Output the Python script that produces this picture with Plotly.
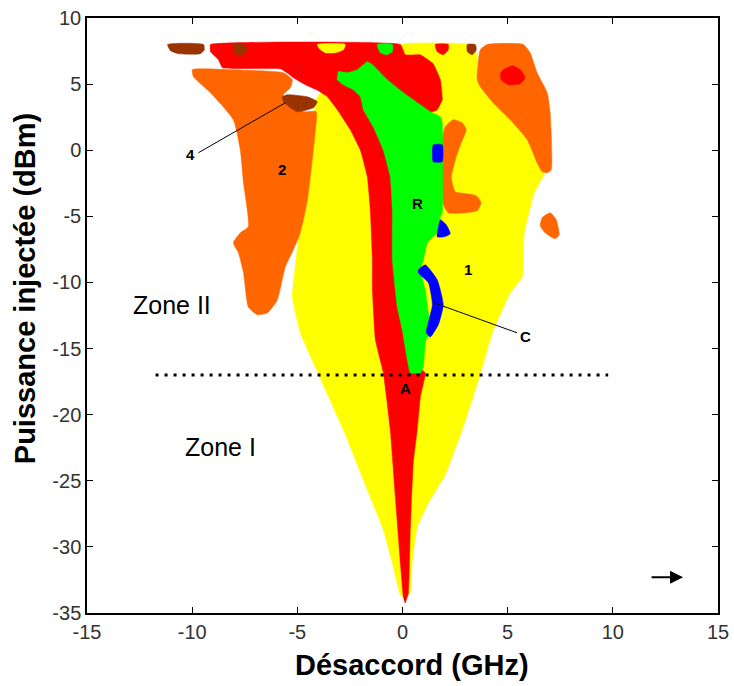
import plotly.graph_objects as go

# ---------------- data (GHz, dBm) ----------------
yellow_x = [-0.10, -0.48, -0.91, -1.86, -2.81, -4.00, -4.86, -5.24, -4.95, -4.76, -4.38, -4.24, -4.10, -3.90,
            -3.57, -2.95, -2.24, -1.05, -0.10, 3.22, 3.55, 3.55, 4.65, 5.93, 6.78, 6.26, 5.79, 5.69, 5.12,
            4.27, 3.70, 2.84, 2.03, 1.23, 0.70, 0.47, 0.37, 0.13]
yellow_y = [-33.64, -31.22, -28.72, -24.94, -21.15, -16.92, -13.81, -11.09, -6.78, -4.28, 0.00, 2.53, 3.82, 4.35,
            4.04, 3.82, 4.57, 6.09, 8.0, 8.0, 7.22, 5.33, 3.44, 0.79, -1.63, -3.22, -6.25, -9.58, -10.79,
            -13.81, -16.92, -21.15, -24.56, -26.68, -28.49, -30.99, -33.49, -33.87]

orange2_x = [-9.99, -8.18, -5.66, -5.24, -5.33, -5.66, -5.33, -4.62, -4.10, -4.14, -4.24, -4.52, -4.86, -5.19,
             -5.57, -5.95, -6.42, -6.90, -7.33, -7.56, -7.80, -8.04, -7.71, -7.33, -7.56, -7.71, -8.04, -9.13, -9.94]
orange2_y = [6.09, 6.09, 5.86, 5.33, 4.73, 4.20, 3.29, 2.91, 2.91, 1.55, 0.00, -3.75, -6.25, -7.53,
             -8.82, -11.32, -12.30, -12.45, -11.85, -9.27, -7.76, -7.00, -6.25, -5.79, -2.46, 0.00, 2.30, 4.35, 5.56]

orange_r_x = [3.55, 3.70, 4.03, 5.74, 6.07, 6.40, 6.88, 7.02, 7.07, 6.88, 6.64, 6.40, 5.93, 5.12, 4.31, 3.70]
orange_r_y = [5.33, 7.60, 8.0, 8.0, 7.37, 5.86, 4.35, 2.83, -1.48, -1.71, -1.63, -0.95, 0.79, 2.30, 3.59, 4.80]

orange_c_x = [2.41, 2.84, 3.03, 2.75, 2.51, 2.32, 2.51, 3.08, 3.51, 3.74, 3.55, 3.03, 2.18, 1.94, 1.89, 1.89, 2.03]
orange_c_y = [2.30, 2.08, 1.55, 0.41, -0.72, -2.08, -3.14, -3.30, -3.45, -3.98, -4.58, -4.73, -4.73, -4.13, -2.61, 0.79, 1.77]

orange_s_x = [7.02, 7.31, 7.45, 7.26, 6.78, 6.55, 6.64]
orange_s_y = [-4.73, -5.26, -6.40, -6.70, -6.25, -5.72, -5.11]

red_x = [-9.13, -0.10, 0.13, 0.85, 1.46, 1.80, 1.89, 1.65, 1.32, 0.37, 0.13, 0.37, 0.51, 0.66, 1.08, 0.85,
         0.70, 0.51, 0.37, 0.28, 0.13, 0.04, -0.10, -0.34, -0.58, -0.91, -1.29, -1.43, -1.43, -1.53, -1.67,
         -2.00, -2.48, -3.10, -3.57, -4.00, -4.62, -5.19, -5.43, -5.81, -8.56, -8.75, -9.13]
red_y = [8.0, 8.0, 7.22, 7.22, 6.54, 5.33, 3.82, 3.06, 2.83, 2.30, -3.75, -11.32, -14.34, -16.24, -16.84, -18.66,
         -21.15, -23.65, -28.72, -33.49, -34.25, -33.79, -31.22, -26.22, -21.15, -16.84, -14.34, -10.56, -8.29,
         -4.51, -2.01, 0.00, 1.55, 3.06, 4.04, 4.50, 4.95, 5.48, 5.79, 6.16, 6.24, 6.84, 7.45]

red_o_x = [4.79, 5.22, 5.60, 5.83, 5.60, 5.03, 4.69, 4.65]
red_o_y = [6.09, 6.39, 6.09, 5.48, 5.03, 4.95, 5.33, 5.79]

red_t_x = [1.56, 2.18, 2.18, 1.94, 1.65]
red_t_y = [8.0, 8.0, 7.60, 7.22, 7.45]

yellow_t_x = [-4.05, -2.72, -2.81, -3.19, -3.67, -3.95]
yellow_t_y = [8.0, 8.0, 7.60, 7.37, 7.37, 7.68]

green_x = [-3.05, -2.62, -2.15, -1.67, -1.43, -0.72, 0.04, 0.85, 1.32, 1.80, 1.89, 1.89, 1.80, 1.65, 1.18,
           0.99, 0.85, 1.08, 1.23, 1.42, 1.18, 1.08, 0.99, 0.85, 0.37, 0.23, -0.01, -0.25, -0.48, -0.48,
           -0.58, -0.91, -1.39, -1.86, -2.00, -2.34, -2.81, -3.10]
green_y = [5.94, 5.86, 6.09, 6.69, 6.47, 5.33, 4.35, 3.44, 2.91, 2.53, 2.08, -4.73, -5.04, -6.25, -7.00,
           -8.29, -9.05, -10.56, -12.30, -13.97, -14.12, -14.57, -16.39, -16.84, -16.84, -15.86, -13.59, -11.85,
           -8.29, -4.51, -2.01, 0.00, 1.77, 3.06, 4.04, 4.57, 4.95, 5.33]

green_t_x = [-1.20, -0.48, -0.48, -0.77, -1.05]
green_t_y = [8.0, 8.0, 7.45, 7.22, 7.37]

blue1_x = [1.46, 1.89, 1.89, 1.46, 1.42]
blue1_y = [0.41, 0.41, -0.87, -0.87, -0.27]
blue2_x = [1.80, 2.08, 2.27, 1.99, 1.65, 1.70]
blue2_y = [-5.26, -5.64, -6.32, -6.55, -6.55, -5.87]
blue3_x = [0.75, 1.08, 1.65, 1.94, 1.70, 1.32, 1.13, 1.42, 1.23, 0.75]
blue3_y = [-9.05, -8.67, -9.80, -11.70, -13.21, -14.12, -13.81, -11.70, -10.03, -9.27]

brown1_x = [-11.17, -9.46, -9.42, -9.61, -10.65, -11.03]
brown1_y = [8.0, 8.0, 7.60, 7.30, 7.30, 7.53]
brown2_x = [-8.04, -7.47, -7.42, -7.71, -7.99]
brown2_y = [8.0, 8.0, 7.45, 7.15, 7.37]
brown3_x = [3.08, 3.46, 3.51, 3.32, 3.08]
brown3_y = [8.0, 8.0, 7.60, 7.22, 7.45]
brown4_x = [-5.71, -5.47, -4.52, -4.05, -4.24, -5.00, -5.33, -5.66]
brown4_y = [4.04, 4.20, 4.04, 3.67, 3.21, 2.91, 3.21, 3.67]

threshold_x = [-11.74, 9.78]
threshold_y = [-17.0, -17.0]

region_labels = ["4", "2", "R", "1", "C", "A"]
region_label_x = [-10.08, -5.71, 0.70, 3.13, 5.83, 0.13]
region_label_y = [-0.34, -1.48, -4.05, -9.05, -14.12, -18.05]

zone_labels = ["Zone II", "Zone I"]
zone_x = [-10.94, -8.66]
zone_y = [-11.70, -22.44]

leader4_x = [-9.70, -5.57]
leader4_y = [-0.19, 3.59]
leaderC_x = [1.51, 5.45]
leaderC_y = [-11.55, -13.81]

arrow_x = [11.77, 13.34]
arrow_y = [-32.3, -32.3]

x_ticks = [-15, -10, -5, 0, 5, 10, 15]
x_tick_text = ["-15", "-10", "-5", "0", "5", "10", "15"]
y_ticks = [-35, -30, -25, -20, -15, -10, -5, 0, 5, 10]
y_tick_text = ["-35", "-30", "-25", "-20", "-15", "-10", "-5", "0", "5", "10"]

YELLOW = "#FFFF00"
ORANGE = "#FF6600"
RED = "#FF0000"
GREEN = "#00FF00"
BLUE = "#0000FF"
BROWN = "#993300"

fig = go.Figure()


def region(xs, ys, color, smooth=0.5):
    fig.add_trace(go.Scatter(x=xs + xs[:1], y=ys + ys[:1], mode="lines", fill="toself", fillcolor=color,
                             line=dict(width=0.5, color=color, shape="spline", smoothing=smooth),
                             hoverinfo="skip", showlegend=False))


region(yellow_x, yellow_y, YELLOW, 0.3)
region(orange2_x, orange2_y, ORANGE)
region(orange_r_x, orange_r_y, ORANGE)
region(orange_c_x, orange_c_y, ORANGE)
region(orange_s_x, orange_s_y, ORANGE)
region(red_x, red_y, RED, 0.3)
region(red_o_x, red_o_y, RED)
region(red_t_x, red_t_y, RED)
region(yellow_t_x, yellow_t_y, YELLOW)
region(green_x, green_y, GREEN, 0.3)
region(green_t_x, green_t_y, GREEN)
region(blue1_x, blue1_y, BLUE)
region(blue2_x, blue2_y, BLUE)
region(blue3_x, blue3_y, BLUE)
region(brown1_x, brown1_y, BROWN)
region(brown2_x, brown2_y, BROWN)
region(brown3_x, brown3_y, BROWN)
region(brown4_x, brown4_y, BROWN)

# dotted threshold line
fig.add_trace(go.Scatter(x=threshold_x, y=threshold_y, mode="lines",
                         line=dict(color="black", width=3, dash="3px,6px"),
                         hoverinfo="skip", showlegend=False))
# leader lines
for lx, ly in [(leader4_x, leader4_y), (leaderC_x, leaderC_y)]:
    fig.add_trace(go.Scatter(x=lx, y=ly, mode="lines", line=dict(color="black", width=1),
                             hoverinfo="skip", showlegend=False))

annotations = []
for t, x, y in zip(region_labels, region_label_x, region_label_y):
    annotations.append(dict(x=x, y=y, xref="x", yref="y", text="<b>%s</b>" % t, showarrow=False,
                            font=dict(family="Liberation Sans, Arial", size=15, color="black")))
for t, x, y in zip(zone_labels, zone_x, zone_y):
    annotations.append(dict(x=x, y=y, xref="x", yref="y", text=t, showarrow=False,
                            font=dict(family="Liberation Sans, Arial", size=25, color="black")))
# arrow
annotations.append(dict(x=arrow_x[1], y=arrow_y[1], ax=arrow_x[0], ay=arrow_y[0], xref="x", yref="y",
                        axref="x", ayref="y", text="", showarrow=True, arrowhead=2, arrowsize=1.3,
                        arrowwidth=2, arrowcolor="black"))
# axis titles
annotations.append(dict(x=0.515, y=-0.0874, xref="paper", yref="paper", text="<b>Désaccord (GHz)</b>",
                        showarrow=False, xanchor="center", yanchor="middle",
                        font=dict(family="Liberation Sans, Arial", size=29, color="black")))
annotations.append(dict(x=-0.098, y=0.5445, xref="paper", yref="paper", text="<b>Puissance injectée (dBm)</b>",
                        showarrow=False, xanchor="center", yanchor="middle", textangle=-90,
                        font=dict(family="Liberation Sans, Arial", size=29, color="black")))

axis_common = dict(showgrid=False, zeroline=False, showline=True, linecolor="black", linewidth=1.5,
                   mirror="ticks", ticks="inside", ticklen=6, tickwidth=1.2, tickcolor="black",
                   automargin=False, ticklabeloverflow="allow",
                   tickfont=dict(family="Liberation Sans, Arial", size=20, color="#333333"))

fig.update_layout(
    width=734, height=686,
    margin=dict(l=87, r=16, t=18, b=73),
    paper_bgcolor="white", plot_bgcolor="white",
    xaxis=dict(range=[-15, 15], tickmode="array", tickvals=x_ticks, ticktext=x_tick_text, **axis_common),
    yaxis=dict(range=[-35, 10], tickmode="array", tickvals=y_ticks, ticktext=y_tick_text, **axis_common),
    annotations=annotations,
    showlegend=False,
)

fig.write_html("out.html", config={"displayModeBar": False},
               post_script="document.body.style.margin='0';document.body.style.overflow='hidden';")
